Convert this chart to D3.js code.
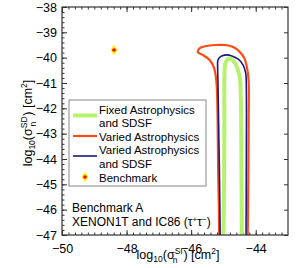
<!DOCTYPE html>
<html>
<head>
<meta charset="utf-8">
<script src="https://cdn.jsdelivr.net/npm/d3@7"></script>
<style>
  body { margin: 0; background: #fff; }
  text { font-family: "Liberation Sans", Arial, sans-serif; }
</style>
</head>
<body>
<div id="chart"></div>
<script>
// Data (log10 cross sections)
var xTicks = [-50, -48, -46, -44];
var yTicks = [-47, -46, -45, -44, -43, -42, -41, -40, -39, -38];

var fixedAstro = [[-45.00,-47.3],[-44.98,-44.8],[-44.97,-42.5],[-44.97,-40.8],[-44.95,-40.29],[-44.89,-40.09],
  [-44.83,-40.03],[-44.74,-40.07],[-44.64,-40.21],[-44.55,-40.49],[-44.49,-40.8],[-44.46,-41.67],[-44.44,-44.8],[-44.43,-47.3]];

var variedAstro = [[-45.13,-47.3],[-45.14,-46],[-45.16,-44.8],[-45.18,-42.5],[-45.20,-41.3],[-45.23,-40.8],[-45.29,-40.4],
  [-45.42,-40.1],[-45.63,-39.9],[-45.79,-39.78],[-45.74,-39.63],[-45.54,-39.54],[-45.26,-39.5],[-44.95,-39.5],
  [-44.70,-39.58],[-44.52,-39.74],[-44.36,-40.0],[-44.27,-40.4],[-44.22,-40.9],[-44.22,-42.5],[-44.23,-44.8],[-44.25,-47.3]];

var variedAstroSDSF = [[-45.10,-47.3],[-45.12,-44.8],[-45.15,-42.5],[-45.17,-40.9],[-45.18,-40.33],[-45.17,-40.09],
  [-45.08,-39.95],[-44.90,-39.89],[-44.74,-39.93],[-44.55,-40.05],[-44.39,-40.29],[-44.31,-40.61],[-44.29,-41.3],
  [-44.29,-43.6],[-44.30,-47.3]];

var benchmark = [-48.39, -39.70];

// Dimensions
var margin = {top: 7, right: 11, bottom: 33, left: 62},
    width = 299 - margin.left - margin.right,
    height = 268 - margin.top - margin.bottom;

var svg = d3.select("#chart")
  .append("svg")
  .attr("width", 299)
  .attr("height", 268)
  .append("g")
  .attr("transform", "translate(" + margin.left + "," + margin.top + ")");

var x = d3.scaleLinear().domain([-50, -43]).range([0, width]);
var y = d3.scaleLinear().domain([-47, -38]).range([height, 0]);

var fmt = function(d) { return d < 0 ? "\u2212" + Math.abs(d) : d; };
var minorX = d3.range(-50, -43.01, 0.2).map(function(d) { return Math.round(d * 10) / 10; });
var minorY = d3.range(-47, -37.99, 0.2).map(function(d) { return Math.round(d * 10) / 10; });

// Axes with inward ticks
svg.append("g")
  .attr("transform", "translate(0," + height + ")")
  .call(d3.axisBottom(x).tickValues(minorX).tickSize(-2.5).tickFormat(""));
svg.append("g")
  .attr("transform", "translate(0," + height + ")")
  .call(d3.axisBottom(x).tickValues(xTicks).tickSize(-5).tickPadding(9).tickFormat(fmt));
svg.append("g")
  .call(d3.axisTop(x).tickValues(minorX).tickSize(-2.5).tickFormat(""));
svg.append("g")
  .call(d3.axisTop(x).tickValues(xTicks).tickSize(-5).tickFormat(""));
svg.append("g")
  .call(d3.axisLeft(y).tickValues(minorY).tickSize(-2.5).tickFormat(""));
svg.append("g")
  .call(d3.axisLeft(y).tickValues(yTicks).tickSize(-5).tickPadding(5).tickFormat(fmt));
svg.append("g")
  .attr("transform", "translate(" + width + ",0)")
  .call(d3.axisRight(y).tickValues(yTicks).tickSize(-4).tickFormat(""));

svg.selectAll(".domain").remove();
svg.selectAll(".tick line").attr("stroke", "#333");
svg.selectAll(".tick text").attr("fill", "#000").style("font-size", "12.5px")
  .style("font-family", "'Liberation Sans', Arial, sans-serif");

// Clip for contours
svg.append("clipPath").attr("id", "clip")
  .append("rect").attr("width", width).attr("height", height);

var line = d3.line()
  .x(function(d) { return x(d[0]); })
  .y(function(d) { return y(d[1]); })
  .curve(d3.curveCatmullRom.alpha(0.5));

var plot = svg.append("g").attr("clip-path", "url(#clip)");

plot.append("path").datum(variedAstro)
  .attr("d", line).attr("fill", "none")
  .attr("stroke", "#ff4a12").attr("stroke-width", 2.2);
plot.append("path").datum(variedAstroSDSF)
  .attr("d", line).attr("fill", "none")
  .attr("stroke", "#1c1a80").attr("stroke-width", 1.6);
plot.append("path").datum(fixedAstro)
  .attr("d", line).attr("fill", "none")
  .attr("stroke", "#b6f26e").attr("stroke-width", 4);

// Benchmark marker
function drawMarker(g, cx, cy) {
  g.append("path")
    .attr("d", "M" + cx + "," + (cy - 5) + "L" + (cx + 3.5) + "," + cy + "L" + cx + "," + (cy + 5) + "L" + (cx - 3.5) + "," + cy + "Z")
    .attr("fill", "#ffee00");
  g.append("circle").attr("cx", cx).attr("cy", cy).attr("r", 1.8).attr("fill", "#ff0000");
}
drawMarker(svg, x(benchmark[0]), y(benchmark[1]));

// Frame
svg.append("rect")
  .attr("width", width).attr("height", height)
  .attr("fill", "none").attr("stroke", "#333").attr("stroke-width", 1.2);

// Legend
var legend = svg.append("g").attr("transform", "translate(7,93)");
legend.append("rect").attr("width", 137).attr("height", 86)
  .attr("fill", "#fff").attr("stroke", "#888").attr("stroke-width", 1);

var legendLines = [
  {color: "#b6f26e", w: 4, y: 15.5},
  {color: "#ff4a12", w: 2.2, y: 36},
  {color: "#1c1a80", w: 1.6, y: 56}
];
legend.selectAll("line.key")
  .data(legendLines).enter().append("line")
  .attr("x1", 4).attr("x2", 28)
  .attr("y1", function(d) { return d.y; }).attr("y2", function(d) { return d.y; })
  .attr("stroke", function(d) { return d.color; })
  .attr("stroke-width", function(d) { return d.w; });

var legendText = ["Fixed Astrophysics", "and SDSF", "Varied Astrophysics", "Varied Astrophysics", "and SDSF", "Benchmark"];
legend.selectAll("text.lab")
  .data(legendText).enter().append("text")
  .attr("x", 30)
  .attr("y", function(d, i) { return 13.5 + i * 13.6; })
  .style("font-size", "11.5px")
  .text(function(d) { return d; });
drawMarker(legend, 16, 77);

// Annotation
svg.append("text").attr("x", 10).attr("y", 205).style("font-size", "12px").text("Benchmark A");
var ann = svg.append("text").attr("x", 10).attr("y", 219).style("font-size", "12px");
ann.append("tspan").text("XENON1T and IC86 (\u03c4");
ann.append("tspan").attr("dy", -4).style("font-size", "8px").text("+");
ann.append("tspan").attr("dy", 4).text("\u03c4");
ann.append("tspan").attr("dy", -4).style("font-size", "8px").text("\u2212");
ann.append("tspan").attr("dy", 4).text(")");

// Axis labels
function axisLabel(t, sup) {
  t.append("tspan").text("log");
  t.append("tspan").attr("dy", 3).style("font-size", "8.5px").text("10");
  t.append("tspan").attr("dy", -3).text("(\u03c3");
  t.append("tspan").attr("dy", -5).style("font-size", "8.5px").text(sup);
  t.append("tspan").attr("dx", -10).attr("dy", 9).style("font-size", "8.5px").text("n");
  t.append("tspan").attr("dx", 6).attr("dy", -4).text(") [cm");
  t.append("tspan").attr("dy", -5).style("font-size", "8.5px").text("2");
  t.append("tspan").attr("dy", 5).text("]");
}
var xl = svg.append("text")
  .attr("x", width / 2 + 3).attr("y", height + 24)
  .attr("text-anchor", "middle").style("font-size", "12.5px");
axisLabel(xl, "SI");

var yl = svg.append("text")
  .attr("transform", "translate(-30," + (height / 2 + 2) + ")rotate(-90)")
  .attr("text-anchor", "middle").style("font-size", "12.5px");
axisLabel(yl, "SD");
</script>
</body>
</html>
